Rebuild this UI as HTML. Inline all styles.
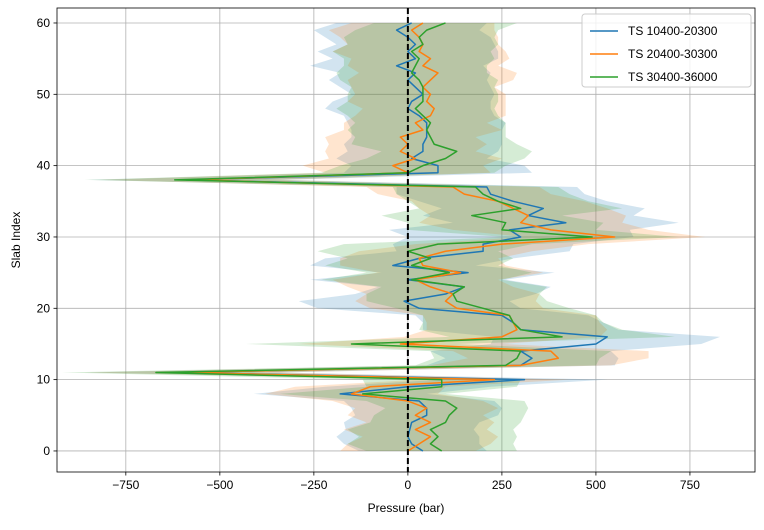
<!DOCTYPE html>
<html><head><meta charset="utf-8"><style>
body{margin:0;background:#fff;font-family:"Liberation Sans","DejaVu Sans",sans-serif}
svg text{font-family:"Liberation Sans","DejaVu Sans",sans-serif;font-size:12px;fill:#000}
</style></head><body>
<svg id="chart" width="764" height="525" viewBox="0 0 764 525" xmlns="http://www.w3.org/2000/svg">
<g id="grid"></g>
<g id="bands"></g>
<g id="lines"></g>
<g id="axes"></g>
</svg>
<script>
const seriesNames = ["TS 10400-20300","TS 20400-30300","TS 30400-36000"];
const colors = ["#1f77b4","#ff7f0e","#2ca02c"];
const xTicks = [-750,-500,-250,0,250,500,750];
const yTicks = [0,10,20,30,40,50,60];
const blueMean = [40,10,0,5,10,50,50,30,-180,0,310,-600,300,330,300,500,530,300,280,250,30,-10,100,150,0,160,-40,30,200,200,300,270,420,320,360,280,220,210,-590,80,80,10,40,40,50,50,50,30,0,10,40,20,0,20,-30,20,0,20,0,-30,10];
const orangeMean = [0,30,60,20,60,20,50,0,-150,-100,230,-600,300,400,380,-20,250,290,280,270,130,100,120,60,20,140,40,30,100,250,550,380,300,320,280,240,150,120,-580,0,-40,20,-20,0,-20,40,20,60,70,50,60,40,60,80,40,60,30,40,30,10,40];
const greenMean = [90,60,80,60,100,110,130,100,-120,90,90,-670,260,290,300,-150,410,300,280,270,200,130,120,150,10,110,10,60,0,80,490,250,260,170,300,240,200,180,-620,0,40,100,130,70,60,50,60,40,20,40,40,40,30,10,20,30,10,40,30,50,100];
const blueStd = [170,180,190,170,180,190,200,200,230,220,220,260,250,230,240,280,300,260,240,230,270,280,240,230,260,230,220,250,230,240,300,320,300,280,270,250,250,240,260,250,230,200,200,210,200,200,210,200,220,210,190,200,210,200,230,220,240,210,220,220,200];
const orangeStd = [180,190,180,190,170,180,190,200,230,200,200,260,240,240,260,270,260,240,230,230,230,240,230,220,220,220,220,210,230,230,240,260,270,260,250,230,230,230,240,220,240,230,200,210,200,210,190,200,190,210,200,190,220,210,200,210,230,200,210,220,190];
const greenStd = [200,220,210,220,200,200,190,210,220,200,210,250,240,220,240,280,300,270,240,230,230,240,230,220,240,220,230,220,240,250,230,250,260,240,270,240,230,220,240,230,220,210,200,220,200,210,200,200,210,200,200,190,210,200,190,200,210,200,200,190,190];
const means = [blueMean, orangeMean, greenMean];
const stds = [blueStd, orangeStd, greenStd];

const L=57,R=755,T=8,B=472;
const xMin=-933,xMax=923,yMin=-2.95,yMax=62.1;
const xs=v=>L+(v-xMin)/(xMax-xMin)*(R-L);
const ys=v=>B-(v-yMin)/(yMax-yMin)*(B-T);
const NS="http://www.w3.org/2000/svg";
function mk(tag,attrs,parent){const e=document.createElementNS(NS,tag);for(const k in attrs)e.setAttribute(k,attrs[k]);parent.appendChild(e);return e;}
const grid=document.getElementById('grid'),bands=document.getElementById('bands'),lines=document.getElementById('lines'),axes=document.getElementById('axes');
xTicks.forEach(t=>{const l=mk('line',{x1:xs(t),x2:xs(t),y1:T,y2:B,stroke:'#b0b0b0','stroke-width':0.8},grid);

});
yTicks.forEach(t=>{const l=mk('line',{x1:L,x2:R,y1:ys(t),y2:ys(t),stroke:'#b0b0b0','stroke-width':0.8},grid);

});
means.forEach((m,i)=>{
  let up=m.map((v,j)=>xs(v+stds[i][j])+','+ys(j));
  let dn=m.map((v,j)=>xs(v-stds[i][j])+','+ys(j)).reverse();
  const p=mk('polygon',{points:up.concat(dn).join(' '),fill:colors[i],'fill-opacity':0.2,stroke:'none'},bands);
  
  
});
means.forEach((m,i)=>{
  const p=mk('polyline',{points:m.map((v,j)=>xs(v)+','+ys(j)).join(' '),fill:'none',stroke:colors[i],'stroke-width':1.5,'stroke-linejoin':'round'},lines);
  
  
});
const zl=mk('line',{x1:xs(0),x2:xs(0),y1:T,y2:B,stroke:'#000','stroke-width':2,'stroke-dasharray':'6,3'},lines);


const fr=mk('rect',{x:L,y:T,width:R-L,height:B-T,fill:'none',stroke:'#000','stroke-width':0.8},axes);


xTicks.forEach(t=>{mk('line',{x1:xs(t),x2:xs(t),y1:B,y2:B+3.5,stroke:'#000','stroke-width':0.8},axes);
const tx=mk('text',{x:xs(t),y:B+17,'text-anchor':'middle'},axes);tx.textContent=t<0?'\u2212'+Math.abs(t):String(t);

});
yTicks.forEach(t=>{mk('line',{x1:L-3.5,x2:L,y1:ys(t),y2:ys(t),stroke:'#000','stroke-width':0.8},axes);
const tx=mk('text',{x:L-7,y:ys(t)+4,'text-anchor':'end'},axes);tx.textContent=t;

});
const xt=mk('text',{x:(L+R)/2,y:512,'text-anchor':'middle'},axes);xt.textContent='Pressure (bar)';


const yt=mk('text',{x:20,y:(T+B)/2,'text-anchor':'middle',transform:'rotate(-90 20 '+((T+B)/2)+')'},axes);yt.textContent='Slab Index';


const lg=mk('g',{},axes);


mk('rect',{x:582,y:14,width:169,height:73,rx:3,fill:'#fff','fill-opacity':0.8,stroke:'#ccc'},lg);
seriesNames.forEach((n,i)=>{const y=31+i*23;
const e=mk('g',{},lg);


mk('line',{x1:590,x2:618,y1:y,y2:y,stroke:colors[i],'stroke-width':1.5},e);
const t=mk('text',{x:628,y:y+4},e);t.textContent=n;});
</script>
</body></html>
